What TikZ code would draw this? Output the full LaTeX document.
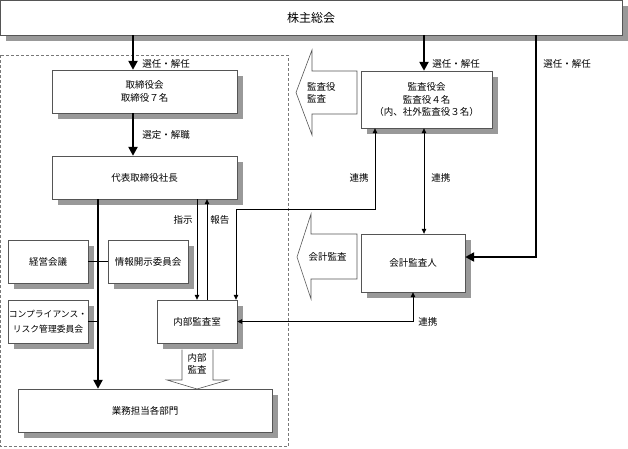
\documentclass[tikz,border=0pt]{standalone}
\usepackage{fontspec}
\usepackage{tikz}
\usetikzlibrary{arrows.meta,positioning}
\newfontfamily\jpfont{Noto Sans CJK JP}
\definecolor{shadowgray}{RGB}{153, 153, 153}
\definecolor{edgegray}{RGB}{ 85,  85,  85}
\definecolor{framegray}{RGB}{120, 120, 120}

\begin{document}
\begin{tikzpicture}[x=1pt, y=-1pt,
        font=\jpfont\fontsize{9.5}{12.5}\selectfont,
        box/.style={draw=edgegray, fill=white, inner sep=0pt, align=center},
        bigarrow/.style={line width=2.5pt, -{Triangle[length=9pt,width=9pt]}},
        plainline/.style={line width=0.8pt},
        link/.style={line width=0.8pt, -{Triangle[length=5pt,width=4.5pt]}},
        twoway/.style={line width=0.8pt, {Triangle[length=5pt,width=4.5pt]}-{Triangle[length=5pt,width=4.5pt]}},
        blockarrow/.style={draw=edgegray, fill=white, line width=0.6pt},
        lbl/.style={inner sep=0pt}]
    \useasboundingbox (0,0) rectangle (628,448);

    \fill[shadowgray] (  6,  6) rectangle (628, 41);
    \fill[shadowgray] ( 58, 76) rectangle (243,119);
    \fill[shadowgray] ( 58,162) rectangle (243,205);
    \fill[shadowgray] ( 14,246) rectangle ( 94,289);
    \fill[shadowgray] (114,246) rectangle (194,289);
    \fill[shadowgray] ( 14,306) rectangle ( 94,349);
    \fill[shadowgray] (163,306) rectangle (243,349);
    \fill[shadowgray] ( 24,395) rectangle (278,438);
    \fill[shadowgray] (367, 77) rectangle (498,134);
    \fill[shadowgray] (367,240) rectangle (471,298);

    \node[box, minimum width=622pt, minimum height=35pt, font=\jpfont\fontsize{12}{14}\selectfont]
                                                        (agm)   at (311,   17.5)  {株主総会};
    \node[box, minimum width=185pt, minimum height=43pt] (board) at (144.5, 91.5)  {取締役会\\取締役７名};
    \node[box, minimum width=185pt, minimum height=43pt] (pres)  at (144.5,177.5)  {代表取締役社長};
    \node[box, minimum width= 80pt, minimum height=43pt] (mgmt)  at ( 48,  261.5)  {経営会議};
    \node[box, minimum width= 80pt, minimum height=43pt] (disc)  at (148,  261.5)  {情報開示委員会};
    \node[box, minimum width= 80pt, minimum height=43pt, font=\jpfont\fontsize{8.8}{14.5}\selectfont]
                                                        (comp)  at ( 48,  321.5)  {コンプライアンス・\\リスク管理委員会};
    \node[box, minimum width= 80pt, minimum height=43pt] (audit) at (197,  321.5)  {内部監査室};
    \node[box, minimum width=254pt, minimum height=43pt] (ops)   at (145,  410.5)  {業務担当各部門};
    \node[box, minimum width=131pt, minimum height=57pt] (kansa) at (426.5, 99.5)  {監査役会\\監査役４名\\（内、社外監査役３名）};
    \node[box, minimum width=104pt, minimum height=58pt] (acct)  at (413,  263)    {会計監査人};

    \draw[framegray, dash pattern=on 3pt off 2pt, line width=0.6pt] (0.5,55) rectangle (288,446.5);

    \filldraw[blockarrow] (357,71) -- (312,71) -- (312,50) -- (296,92.5) -- (312,135) -- (312,114) -- (357,114) -- cycle;
    \filldraw[blockarrow] (357,234) -- (311,234) -- (311,214) -- (297,257) -- (311,299) -- (311,279) -- (357,279) -- cycle;
    \filldraw[blockarrow] (182,349.5) -- (182,380) -- (167,380) -- (197,389) -- (228,380) -- (213,380) -- (213,349.5);
    \node[lbl, anchor=west, align=left] (kansalbl) at (307, 93)   {監査役\\監査};
    \node[lbl]                          (acctlbl)  at (327.5,257) {会計監査};
    \node[lbl, align=center]            (auditlbl) at (197,364)   {内部\\監査};

    \coordinate (xa) at (133,  0);
    \coordinate (xb) at ( 98,  0);
    \coordinate (xc) at (207,  0);
    \coordinate (xd) at (375,  0);
    \coordinate (xe) at (236,209);
    \coordinate (xf) at (424,  0);
    \coordinate (xg) at (536,257);

    \draw[bigarrow] (agm.south -| xa) -- (board.north -| xa) node[lbl, pos=.83, right=8pt] {選任・解任};
    \draw[bigarrow] (board.south -| xa) -- (pres.north -| xa) node[lbl, pos=.5, right=8pt] {選定・解職};
    \draw[bigarrow] (pres.south -| xb) -- (ops.north -| xb);
    \draw[plainline] (mgmt.east) -- (disc.west);
    \draw[plainline] (comp.east) -- (comp.east -| xb);
    \draw[link] (pres.south -| audit.north) -- (audit.north) node[lbl, pos=.21, left=4pt] {指示};
    \draw[link] (audit.north -| xc) -- (pres.south -| xc) node[lbl, pos=.79, right=3pt] {報告};
    \draw[twoway] (kansa.south -| xd) |- node[lbl, pos=.31, left=6pt] {連携} (xe) -- (audit.north -| xe);
    \draw[bigarrow] (agm.south -| xf) -- (kansa.north -| xf) node[lbl, pos=.8, right=7pt] {選任・解任};
    \draw[twoway] (kansa.south -| xf) -- (acct.north -| xf) node[lbl, pos=.47, right=7pt] {連携};
    \draw[bigarrow] (agm.south -| xg) |- node[lbl, pos=.065, right=6pt] {選任・解任} (acct.east |- xg);
    \draw[twoway] (acct.south) |- node[lbl, pos=.5, right=5pt] {連携} (audit.east);
\end{tikzpicture}
\end{document}
